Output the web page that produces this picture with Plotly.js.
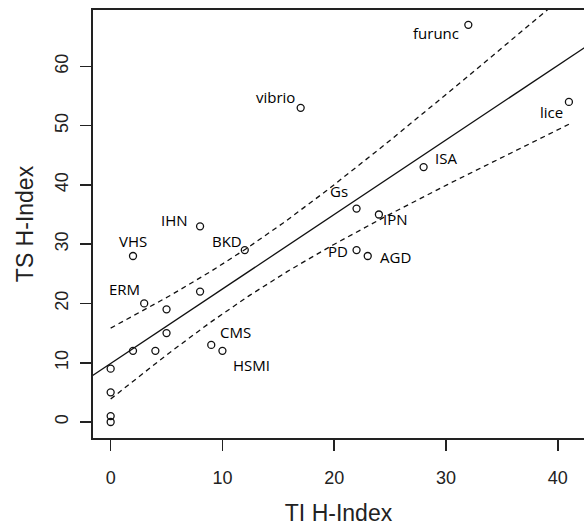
<!DOCTYPE html>
<html>
<head>
<meta charset="utf-8">
<script src="https://cdn.plot.ly/plotly-3.0.1.min.js"></script>
<style>html,body{margin:0;padding:0;background:#fff;overflow:hidden;}</style>
</head>
<body>
<div id="chart" style="width:584px;height:526px;"></div>
<script>
// ---- data ----
const tiH = [0, 0, 0, 0, 2, 4, 5, 5, 3, 8, 9, 10, 2, 8, 12, 17, 32, 41, 28, 22, 24, 22, 23];
const tsH = [0, 1, 5, 9, 12, 12, 15, 19, 20, 22, 13, 12, 28, 33, 29, 53, 67, 54, 43, 36, 35, 29, 28];
const names = ['', '', '', '', '', '', '', '', 'ERM', '', 'CMS', 'HSMI', 'VHS', 'IHN', 'BKD', 'vibrio', 'furunc', 'lice', 'ISA', 'Gs', 'IPN', 'PD', 'AGD'];
const xTicks = [0, 10, 20, 30, 40];
const yTicks = [0, 10, 20, 30, 40, 50, 60];

// ---- label placement (pixels relative to the point) ----
const labelPlace = {
  furunc: ['right', -7, -8], vibrio: ['right', -4, 11], lice: ['right', -4, -10],
  ISA: ['left', 9, 9], Gs: ['right', -7, 18], IPN: ['left', 2, -4],
  PD: ['right', -7, -1], AGD: ['left', 10, -1], IHN: ['right', -10, 6.5],
  BKD: ['right', -1, 9.5], VHS: ['center', 0, 15.5], ERM: ['right', -2, 14],
  CMS: ['left', 7, 13], HSMI: ['left', 9, -14.5]
};

// ---- least-squares fit and 95% confidence band ----
const n = tiH.length;
const mx = tiH.reduce((a, b) => a + b, 0) / n;
const my = tsH.reduce((a, b) => a + b, 0) / n;
let sxx = 0, sxy = 0;
for (let i = 0; i < n; i++) { sxx += (tiH[i] - mx) ** 2; sxy += (tiH[i] - mx) * (tsH[i] - my); }
const slope = sxy / sxx, icpt = my - slope * mx;
let sse = 0;
for (let i = 0; i < n; i++) sse += (tsH[i] - icpt - slope * tiH[i]) ** 2;
const s = Math.sqrt(sse / (n - 2));
const tcrit = 2.0796; // t(0.975, df = 21)
const xmin = Math.min(...tiH), xmax = Math.max(...tiH);
const gx = [], up = [], lo = [];
for (let k = 0; k <= 200; k++) {
  const x = xmin + (xmax - xmin) * k / 200;
  const f = icpt + slope * x;
  const h = tcrit * s * Math.sqrt(1 / n + (x - mx) ** 2 / sxx);
  gx.push(x); up.push(f + h); lo.push(f - h);
}
const lineX = [-5, 50];
const lineY = lineX.map(x => icpt + slope * x);

const traces = [
  {x: lineX, y: lineY, mode: 'lines', line: {color: '#111', width: 1.3}, hoverinfo: 'skip'},
  {x: gx, y: up, mode: 'lines', line: {color: '#111', width: 1.3, dash: '5px,4px'}, hoverinfo: 'skip'},
  {x: gx, y: lo, mode: 'lines', line: {color: '#111', width: 1.3, dash: '5px,4px'}, hoverinfo: 'skip'},
  {x: tiH, y: tsH, mode: 'markers', marker: {symbol: 'circle-open', size: 7, color: '#111', line: {width: 1.3, color: '#111'}}}
];

const annotations = [];
names.forEach((nm, i) => {
  if (!nm) return;
  const p = labelPlace[nm];
  annotations.push({x: tiH[i], y: tsH[i], xref: 'x', yref: 'y', text: nm, showarrow: false,
    xanchor: p[0], yanchor: 'middle', xshift: p[1], yshift: p[2],
    font: {family: 'Open Sans', size: 15, color: '#000'}});
});

const axisCommon = {
  showgrid: false, zeroline: false, showline: true, linecolor: '#222', linewidth: 2,
  ticks: 'outside', ticklen: 11, tickwidth: 1.6, tickcolor: '#222',
  tickfont: {family: 'Liberation Sans', size: 18, color: '#222'}
};

const layout = {
  width: 584, height: 526,
  margin: {l: 93, r: 0, t: 10, b: 88},
  paper_bgcolor: '#fff', plot_bgcolor: '#fff',
  showlegend: false,
  xaxis: Object.assign({}, axisCommon, {
    range: [-1.58, 42.35], tickvals: xTicks, mirror: true, ticklabelstandoff: 11,
    title: {text: 'TI H-Index', font: {family: 'Liberation Sans', size: 23, color: '#222'}, standoff: 25}
  }),
  yaxis: Object.assign({}, axisCommon, {
    range: [-2.7, 69.5], tickvals: yTicks, tickangle: -90, ticklabelstandoff: 5,
    title: {text: 'TS H-Index', font: {family: 'Liberation Sans', size: 23, color: '#222'}, standoff: 12}
  }),
  annotations: annotations
};

Plotly.newPlot('chart', traces, layout, {displayModeBar: false, staticPlot: true});
</script>
</body>
</html>
